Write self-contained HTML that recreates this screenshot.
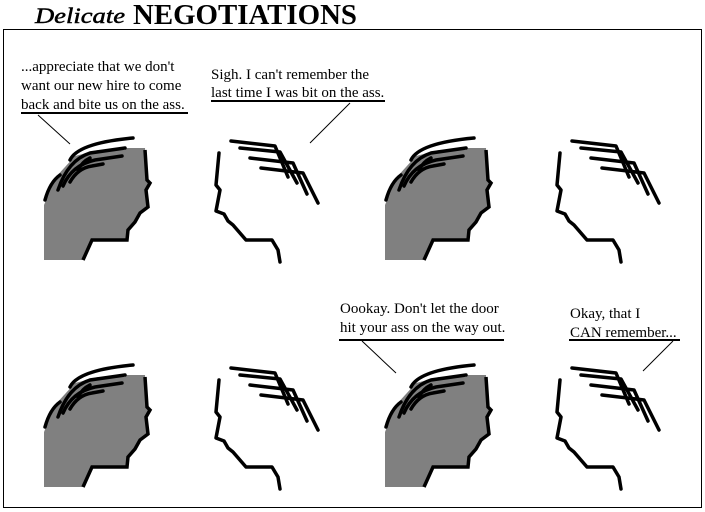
<!DOCTYPE html>
<html><head><meta charset="utf-8"><style>
html,body{margin:0;padding:0;background:#fff;}
svg{display:block}
text{font-family:"Liberation Serif",serif;font-size:15px;fill:#000}
</style></head><body>
<svg width="705" height="512" viewBox="0 0 705 512" xmlns="http://www.w3.org/2000/svg">
<defs>
<g id="gh">
<polygon points="44,260 44,205 55,178 75,156 98,150 125,150 125,148 145,148 147,180 150,183 146,190 148,207 140,213 135,222 128,230 127,240 92,240 83,260" fill="#808080"/>
<polyline points="145,150 147,180 150,183 146,190 148,207 140,213 135,222 128,230 127,240 92,240 83,260" fill="none" stroke="#000" stroke-width="3.5"/>
<g fill="none" stroke="#000" stroke-width="3.5" stroke-linecap="round">
<path d="M45,200 Q50,182 60,175"/>
<path d="M70,160 Q78,143 133,138"/>
<path d="M58,190 Q68,160 90,153 L125,148"/>
<path d="M63,186 Q72,165 95,160 L122,156"/>
<path d="M70,182 Q78,168 92,166 L103,164"/>
<path d="M78,170 Q82,162 90,158"/>
</g>
</g>
<g id="wh" fill="none" stroke="#000" stroke-width="3.5" stroke-linecap="round" stroke-linejoin="round">
<polyline points="219,153 216,185 220,190 216,211 224,214 228,221 233,225 246,240 272,240 278,250 280,262"/>
<polyline points="231,141 275,146 288,177"/>
<polyline points="240,148 280,152 297,183"/>
<polyline points="250,158 293,163 307,194"/>
<polyline points="261,168 303,173 318,203"/>
</g>
</defs>
<text x="35" y="23" style="font-family:'Liberation Serif',serif;font-style:italic;font-size:22px" fill="#fff" stroke="#000" stroke-width="0.5" textLength="90" lengthAdjust="spacingAndGlyphs">Delicate</text>
<text x="133" y="24" style="font-family:'Liberation Serif',serif;font-weight:bold;font-size:28px" textLength="224" lengthAdjust="spacingAndGlyphs">NEGOTIATIONS</text>
<rect x="3.5" y="29.5" width="698" height="478" fill="none" stroke="#000" stroke-width="1"/>
<use href="#gh"/><use href="#wh"/>
<use href="#gh" transform="translate(341,0)"/><use href="#wh" transform="translate(341,0)"/>
<use href="#gh" transform="translate(0,227)"/><use href="#wh" transform="translate(0,227)"/>
<use href="#gh" transform="translate(341,227)"/><use href="#wh" transform="translate(341,227)"/>
<g stroke="#000" fill="none">
<line x1="21" y1="113" x2="188" y2="113" stroke-width="2"/>
<line x1="38" y1="115" x2="70" y2="144" stroke-width="1"/>
<line x1="211" y1="101" x2="385" y2="101" stroke-width="2"/>
<line x1="350" y1="103" x2="310" y2="143" stroke-width="1"/>
<line x1="339" y1="340" x2="504" y2="340" stroke-width="2"/>
<line x1="362" y1="341" x2="396" y2="373" stroke-width="1"/>
<line x1="569" y1="340" x2="680" y2="340" stroke-width="2"/>
<line x1="673" y1="341" x2="643" y2="371" stroke-width="1"/>
</g>
<text x="21" y="71">...appreciate that we don't</text>
<text x="21" y="90">want our new hire to come</text>
<text x="21" y="109">back and bite us on the ass.</text>
<text x="211" y="79">Sigh. I can't remember the</text>
<text x="211" y="97">last time I was bit on the ass.</text>
<text x="340" y="313">Oookay. Don't let the door</text>
<text x="340" y="332">hit your ass on the way out.</text>
<text x="570" y="318">Okay, that I</text>
<text x="570" y="337">CAN remember...</text>
</svg>
</body></html>
